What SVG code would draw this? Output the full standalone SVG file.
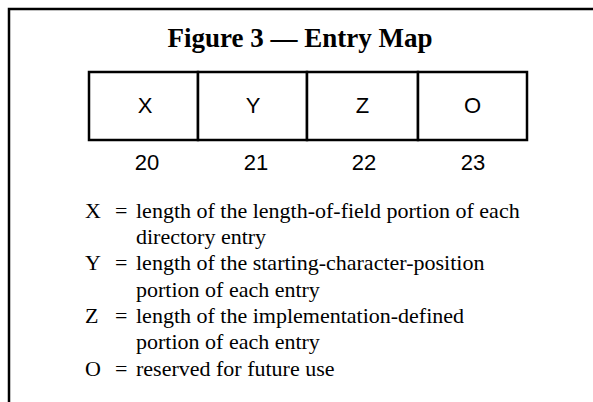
<svg xmlns="http://www.w3.org/2000/svg" width="593" height="402" viewBox="0 0 593 402">
<style>
.frame{fill:none;stroke:#000;stroke-width:2.5}
.cell{fill:#fff;stroke:#000;stroke-width:2.5}
.title{font-family:"Liberation Serif",serif;font-weight:bold;font-size:27px;text-anchor:middle;fill:#000}
.lab{font-family:"Liberation Sans",Arial,sans-serif;font-size:22px;text-anchor:middle;fill:#000}
.leg{font-family:"Liberation Serif",serif;font-size:22px;fill:#000}
</style>
<rect width="593" height="402" fill="#fff"/>
<path class="frame" d="M9 402 V9 H593"/>
<text class="title" x="300" y="47">Figure 3 — Entry Map</text>
<g id="field-X"><rect class="cell" x="89" y="72" width="109" height="68"/><text class="lab" x="145" y="113">X</text><text class="lab" x="147" y="170">20</text></g>
<g id="field-Y"><rect class="cell" x="198" y="72" width="109" height="68"/><text class="lab" x="253" y="113">Y</text><text class="lab" x="256" y="170">21</text></g>
<g id="field-Z"><rect class="cell" x="307" y="72" width="111" height="68"/><text class="lab" x="362.5" y="113">Z</text><text class="lab" x="364" y="170">22</text></g>
<g id="field-O"><rect class="cell" x="418" y="72" width="109" height="68"/><text class="lab" x="472.5" y="113">O</text><text class="lab" x="473" y="170">23</text></g>
<g id="legend" class="leg">
<text x="85" y="218">X</text><text x="115" y="218">=</text><text x="136" y="218">length of the length-of-field portion of each</text>
<text x="136" y="244">directory entry</text>
<text x="85" y="270">Y</text><text x="115" y="270">=</text><text x="136" y="270">length of the starting-character-position</text>
<text x="136" y="297">portion of each entry</text>
<text x="85" y="323">Z</text><text x="115" y="323">=</text><text x="136" y="323">length of the implementation-defined</text>
<text x="136" y="349">portion of each entry</text>
<text x="85" y="376">O</text><text x="115" y="376">=</text><text x="136" y="376">reserved for future use</text>
</g>
</svg>
